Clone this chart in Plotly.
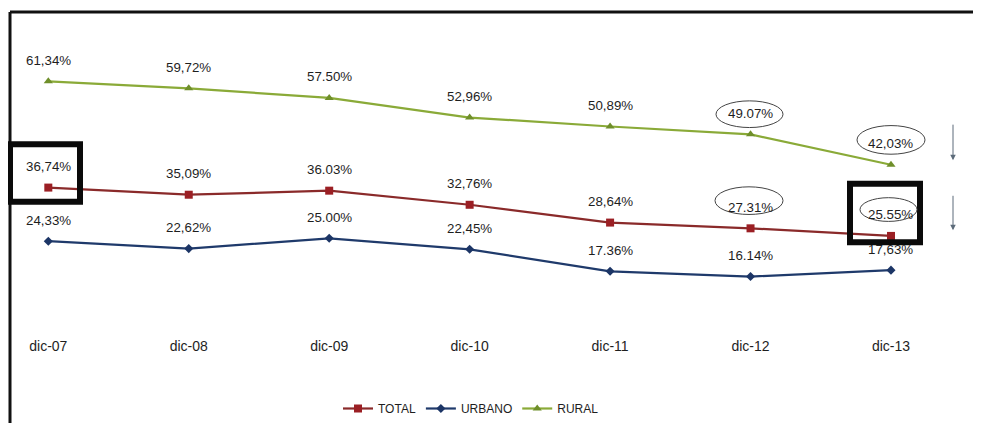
import plotly.graph_objects as go

categories = ["dic-07", "dic-08", "dic-09", "dic-10", "dic-11", "dic-12", "dic-13"]
total = [36.74, 35.09, 36.03, 32.76, 28.64, 27.31, 25.55]
urbano = [24.33, 22.62, 25.00, 22.45, 17.36, 16.14, 17.63]
rural = [61.34, 59.72, 57.50, 52.96, 50.89, 49.07, 42.03]
total_labels = ["36,74%", "35,09%", "36.03%", "32,76%", "28,64%", "27.31%", "25.55%"]
urbano_labels = ["24,33%", "22,62%", "25.00%", "22,45%", "17.36%", "16.14%", "17,63%"]
rural_labels = ["61,34%", "59,72%", "57.50%", "52,96%", "50,89%", "49.07%", "42,03%"]

# page body has an 8px margin; figure sized to fill the window exactly
OX, OY = 8, 8
W, H = 973, 415
L, R, T, B = 0, 0, 0, 83


def px(x):
    return (x - OX - L) / (W - L - R)


def py(y):
    return 1 - (y - OY - T) / (H - T - B)


xs = list(range(len(categories)))
FONT = "Liberation Sans"
TXT = "#1e1e1e"

series = [
    ("TOTAL", total, total_labels, "#9b1f24", "#8a2a2a", "square", 8),
    ("URBANO", urbano, urbano_labels, "#1c3566", "#1f3a6b", "diamond", 7),
    ("RURAL", rural, rural_labels, "#6f8f2a", "#8aaa38", "triangle-up", 8),
]

fig = go.Figure()
annotations = []
for name, vals, labels, mcol, lcol, sym, msize in series:
    fig.add_trace(go.Scatter(
        x=xs, y=vals, name=name, mode="lines+markers",
        line=dict(color=lcol, width=2.2),
        marker=dict(color=mcol, symbol=sym, size=msize),
    ))
    for i, (v, t) in enumerate(zip(vals, labels)):
        annotations.append(dict(
            x=i, y=v, xref="x", yref="y", text=t, showarrow=False,
            yshift=21, font=dict(family=FONT, size=13.3, color=TXT),
        ))

shapes = []
# outer frame (top and left)
shapes.append(dict(type="line", xref="paper", yref="paper",
                   x0=px(10), x1=px(990), y0=py(12), y1=py(12),
                   line=dict(color="#111111", width=3)))
shapes.append(dict(type="line", xref="paper", yref="paper",
                   x0=px(10), x1=px(10), y0=py(12), y1=py(430),
                   line=dict(color="#111111", width=3)))
# thick black boxes
for (x0, y0, x1, y1) in [(10, 146, 80, 204), (850, 186, 920, 245)]:
    shapes.append(dict(type="rect", xref="paper", yref="paper",
                       x0=px(x0), x1=px(x1), y0=py(y0), y1=py(y1),
                       line=dict(color="#0a0a0a", width=6)))
# ellipses
for (x0, y0, x1, y1) in [(716, 102, 783, 129), (715, 189, 783, 217),
                         (857, 127, 925, 156), (860, 200, 917, 224)]:
    shapes.append(dict(type="circle", xref="paper", yref="paper",
                       x0=px(x0), x1=px(x1), y0=py(y0), y1=py(y1),
                       line=dict(color="#444444", width=1)))
# down arrows
for (ya, yb) in [(125, 162), (197, 233)]:
    annotations.append(dict(
        xref="paper", yref="paper", x=px(953), y=py(yb),
        ax=0, ay=-(yb - ya),
        showarrow=True, arrowhead=2, arrowsize=1.1, arrowwidth=1,
        arrowcolor="#5c6b7a", text="",
    ))

fig.update_layout(
    width=W, height=H,
    margin=dict(l=L, r=R, t=T, b=B),
    paper_bgcolor="white", plot_bgcolor="white",
    showlegend=True,
    legend=dict(orientation="h", x=px(471), y=py(414), xanchor="center",
                yanchor="middle", font=dict(family=FONT, size=12, color=TXT),
                itemwidth=30, tracegroupgap=0, bgcolor="rgba(0,0,0,0)"),
    xaxis=dict(range=[-0.287, 6.641], tickmode="array", tickvals=xs,
               ticktext=categories, showgrid=False, zeroline=False,
               showline=False, ticks="",
               tickfont=dict(family=FONT, size=14, color=TXT)),
    yaxis=dict(range=[2.38, 78.32], showgrid=False, zeroline=False,
               showline=False, showticklabels=False, ticks=""),
    shapes=shapes,
    annotations=annotations,
)

fig.write_html("out.html")
